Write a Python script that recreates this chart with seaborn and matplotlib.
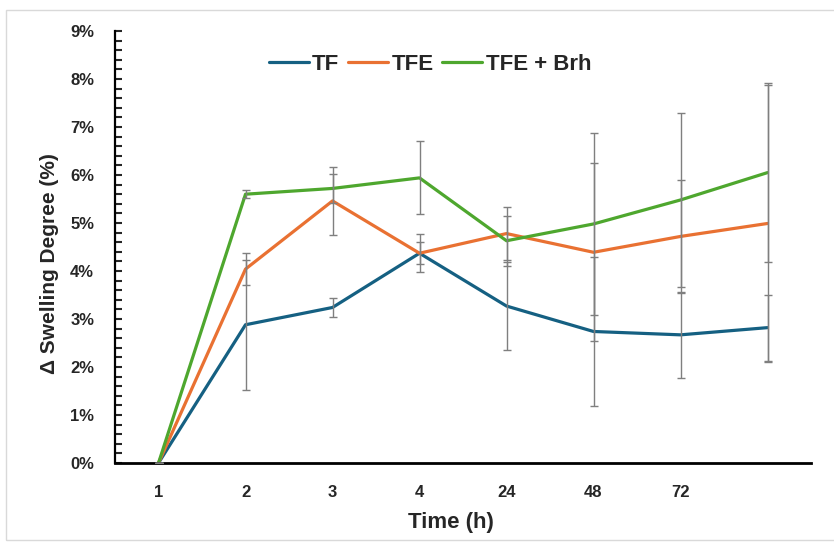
import numpy as np
import pandas as pd
import seaborn as sns
import matplotlib.pyplot as plt
from matplotlib.patches import Rectangle
from matplotlib.ticker import MultipleLocator, PercentFormatter

times = ["1", "2", "3", "4", "24", "48", "72", "96"]
tick_labels = ["1", "2", "3", "4", "24", "48", "72", ""]
series = ["TF", "TFE", "TFE + Brh"]

tf = [0.0, 2.88, 3.24, 4.37, 3.27, 2.74, 2.67, 2.82]
tfe = [0.0, 4.04, 5.46, 4.37, 4.78, 4.39, 4.72, 4.99]
tfe_brh = [0.0, 5.60, 5.72, 5.94, 4.63, 4.98, 5.48, 6.05]

tf_err = [0.0, 1.35, 0.20, 0.40, 0.92, 1.55, 0.90, 0.69]
tfe_err = [0.0, 0.33, 0.70, 0.23, 0.56, 1.85, 1.18, 2.88]
tfe_brh_err = [0.0, 0.08, 0.30, 0.76, 0.52, 1.89, 1.82, 1.87]

colors = ["#156082", "#E97132", "#4EA72E"]

df = pd.DataFrame({
    "time": times * 3,
    "swelling": tf + tfe + tfe_brh,
    "err": tf_err + tfe_err + tfe_brh_err,
    "sample": np.repeat(series, len(times)),
})

sns.set_theme(style="white")
plt.rcParams["font.family"] = ["Liberation Sans", "DejaVu Sans"]
plt.rcParams["font.weight"] = "bold"

fig = plt.figure(figsize=(8.34, 5.43), dpi=100)
ax = fig.add_axes([115 / 834, 1 - 463 / 543, 696 / 834, 432 / 543])

# light chart-area border
fig.patches.append(Rectangle((6 / 834, 3 / 543), 830 / 834, 530 / 543,
                             transform=fig.transFigure, fill=False,
                             edgecolor="#d9d9d9", linewidth=1))

sns.lineplot(data=df, x="time", y="swelling", hue="sample", palette=colors,
             linewidth=2.3, ax=ax, legend=True, errorbar=None)

for name, c in zip(series, colors):
    sub = df[df["sample"] == name]
    ax.errorbar(sub["time"], sub["swelling"], yerr=sub["err"], fmt="none",
                ecolor="#7f7f7f", elinewidth=1, capsize=3, capthick=1, zorder=5)

ax.set_xlim(-0.5, len(times) - 0.5)
ax.set_ylim(0, 9)
ax.yaxis.set_major_locator(MultipleLocator(1))
ax.yaxis.set_minor_locator(MultipleLocator(0.2))
ax.yaxis.set_major_formatter(PercentFormatter(decimals=0))
ax.set_xticks(range(len(times)))
ax.set_xticklabels(tick_labels)

ax.tick_params(axis="y", which="both", direction="in", left=True, width=1.5,
               labelsize=12, pad=15)
ax.tick_params(axis="y", which="major", length=5)
ax.tick_params(axis="y", which="minor", length=5)
ax.tick_params(axis="x", length=0, labelsize=12, pad=16)
for lab in ax.get_xticklabels() + ax.get_yticklabels():
    lab.set_fontweight("bold")

for s in ["top", "right"]:
    ax.spines[s].set_visible(False)
ax.spines["left"].set_linewidth(1.6)
ax.spines["left"].set_color("black")
ax.spines["bottom"].set_linewidth(2)
ax.spines["bottom"].set_color("black")

ax.set_xlabel("Time (h)", fontsize=16, fontweight="bold")
ax.xaxis.set_label_coords((451 - 115) / 696, -(512 - 463) / 432)
ax.set_ylabel("Δ Swelling Degree (%)", fontsize=15, fontweight="bold")
ax.yaxis.set_label_coords(-(115 - 59) / 696, (463 - 264) / 432)

ax.legend(loc="center", bbox_to_anchor=((430 - 115) / 696, (463 - 64) / 432),
          ncol=3, frameon=False, handlelength=1.8, handletextpad=0.15,
          columnspacing=0.4, prop={"size": 16, "weight": "bold"})

fig.savefig("out.png", dpi=100)
